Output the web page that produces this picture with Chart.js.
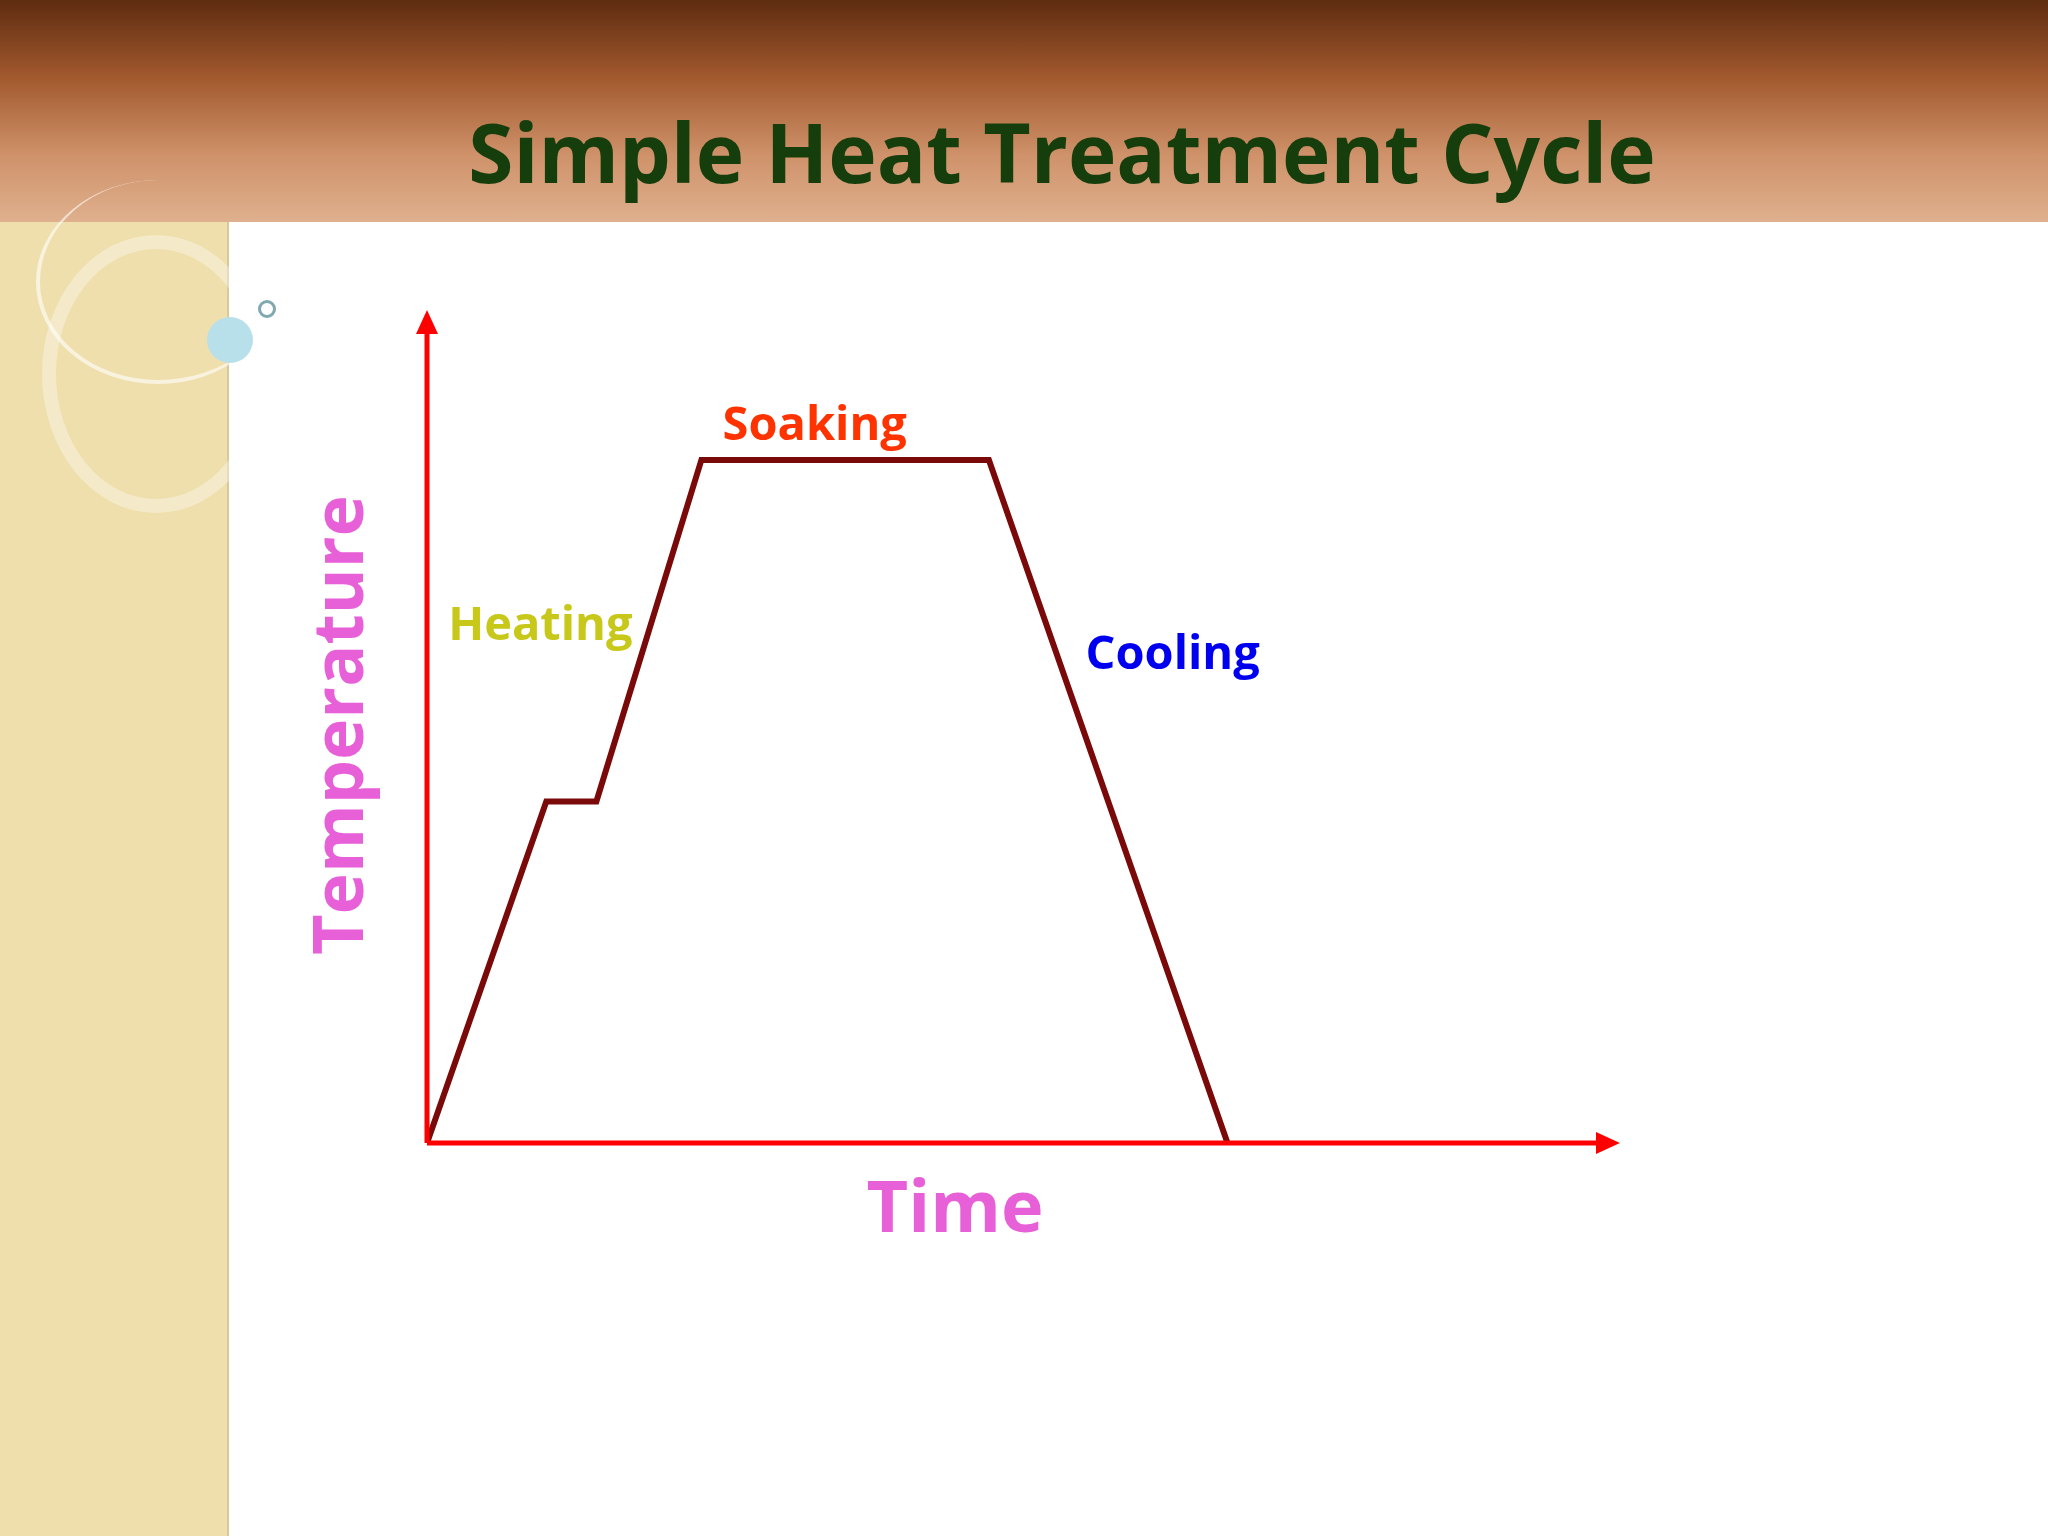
<!DOCTYPE html>
<html>
<head>
<meta charset="utf-8">
<script src="https://cdn.jsdelivr.net/npm/chart.js@4/dist/chart.umd.min.js"></script>
<style>
  body { margin: 0; width: 2048px; height: 1536px; position: relative; overflow: hidden; background: #fff; font-family: "Open Sans", sans-serif; }
  #header { position: absolute; left: 0; top: 0; width: 2048px; height: 222px;
    background: linear-gradient(#5e2c10 0%, #a2592e 35%, #cf926a 70%, #dfb08e 100%); }
  #title { position: absolute; left: 0; top: 95px; width: 2124px; text-align: center;
    font-weight: bold; font-size: 82px; color: #163d0c; }
  #side { position: absolute; left: 0; top: 222px; width: 227px; height: 1314px; background: #efdfac; border-right: 2px solid #d8c89a; }
  .ring { position: absolute; border-radius: 50%; }
  #box { position: absolute; left: 400px; top: 280px; width: 1250px; height: 890px; }
  .lbl { position: absolute; font-weight: bold; white-space: nowrap; transform: translate(-50%, -50%); }
</style>
</head>
<body>
<div id="header"></div>
<div id="title">Simple Heat Treatment Cycle</div>
<div id="side"></div>
<div class="ring" style="left:42px;top:235px;width:200px;height:250px;border:14px solid rgba(255,255,255,0.35);"></div>
<div class="ring" style="left:36px;top:180px;width:240px;height:200px;border:4px solid rgba(255,255,255,0.6);border-top:none;border-right:none;"></div>
<div class="ring" style="left:207px;top:317px;width:46px;height:46px;background:#b8e0ea;"></div>
<div class="ring" style="left:258px;top:300px;width:12px;height:12px;border:3px solid #7fa8b0;"></div>
<div id="box"><canvas id="myChart"></canvas></div>
<div class="lbl" style="left:336px;top:725px;font-size:70px;color:#e860d8;transform:translate(-50%,-50%) rotate(-90deg);">Temperature</div>
<div class="lbl" style="left:955px;top:1204px;font-size:72px;color:#e860d8;">Time</div>
<script>
// heat treatment cycle (arbitrary units)
const timeVals = [0, 10, 14.2, 23, 47.1, 67.1];
const tempVals = [0, 41, 41, 82, 82, 0];
const stageNames = ['Heating', 'Soaking', 'Cooling'];
const stageX = [9.5, 32.5, 62.5];
const stageY = [62, 86, 58.5];
const stageColors = ['#c8c81a', '#ff3300', '#0000ee'];

const axesPlugin = {
  id: 'axes',
  afterDatasetsDraw(chart) {
    let ctx = chart.ctx;
    let a = chart.chartArea;
    ctx.save();
    ctx.strokeStyle = '#ff0000';
    ctx.fillStyle = '#ff0000';
    ctx.lineWidth = 5;
    ctx.beginPath();
    ctx.moveTo(a.left, a.bottom);
    ctx.lineTo(a.left, a.top + 20);
    ctx.moveTo(a.left, a.bottom);
    ctx.lineTo(a.right - 20, a.bottom);
    ctx.stroke();
    ctx.beginPath();
    ctx.moveTo(a.left, a.top); ctx.lineTo(a.left - 11, a.top + 24); ctx.lineTo(a.left + 11, a.top + 24);
    ctx.fill();
    ctx.beginPath();
    ctx.moveTo(a.right, a.bottom); ctx.lineTo(a.right - 24, a.bottom - 11); ctx.lineTo(a.right - 24, a.bottom + 11);
    ctx.fill();
    ctx.font = 'bold 47px "Open Sans"';
    ctx.textAlign = 'center';
    ctx.textBaseline = 'middle';
    stageNames.forEach((name, i) => {
      ctx.fillStyle = stageColors[i];
      ctx.fillText(name, chart.scales.x.getPixelForValue(stageX[i]), chart.scales.y.getPixelForValue(stageY[i]));
    });
    ctx.restore();
  }
};

new Chart(document.getElementById('myChart'), {
  type: 'line',
  data: {
    datasets: [{
      data: timeVals.map((t, i) => ({ x: t, y: tempVals[i] })),
      borderColor: '#7a0a0a',
      borderWidth: 6,
      pointRadius: 0,
      tension: 0
    }]
  },
  options: {
    responsive: true,
    maintainAspectRatio: false,
    animation: false,
    layout: { padding: { left: 27, top: 30, right: 30, bottom: 27 } },
    plugins: { legend: { display: false }, tooltip: { enabled: false } },
    scales: {
      x: { type: 'linear', min: 0, max: 100, display: false },
      y: { min: 0, max: 100, display: false }
    }
  },
  plugins: [axesPlugin]
});
</script>
</body>
</html>
